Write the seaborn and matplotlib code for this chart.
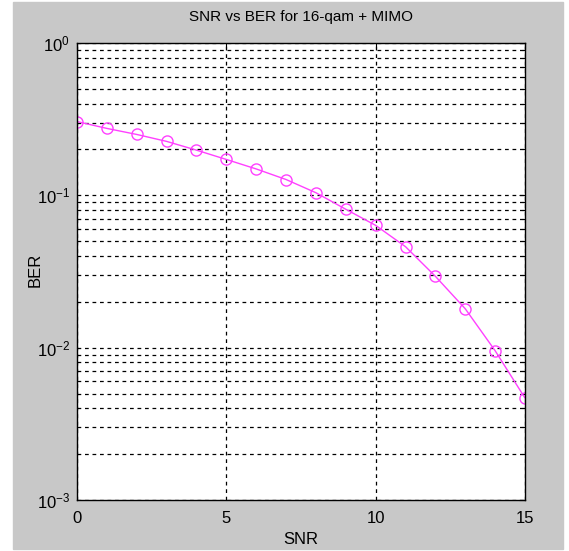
import numpy as np
import pandas as pd
import matplotlib
matplotlib.use("Agg")
import matplotlib.pyplot as plt
from matplotlib.patches import Rectangle
from matplotlib.ticker import LogLocator, NullFormatter, FixedLocator
import seaborn as sns

# data
snr = [0, 1, 2, 3, 4, 5, 6, 7, 8, 9, 10, 11, 12, 13, 14, 15]
ber = [0.305, 0.275, 0.251, 0.226, 0.198, 0.172, 0.149, 0.127,
       0.104, 0.081, 0.0635, 0.046, 0.0294, 0.018, 0.00955, 0.00467]
df = pd.DataFrame({"SNR": snr, "BER": ber})

sns.set_style("white")
plt.rcParams["font.family"] = ["Liberation Sans", "DejaVu Sans"]
plt.rcParams["mathtext.fontset"] = "custom"
plt.rcParams["mathtext.rm"] = "Liberation Sans"
plt.rcParams["text.color"] = "black"
plt.rcParams["axes.labelcolor"] = "black"
plt.rcParams["xtick.color"] = "black"
plt.rcParams["ytick.color"] = "black"

W, H = 569, 551
fig = plt.figure(figsize=(W / 100, H / 100), dpi=100)
fig.patch.set_facecolor("white")
# matlab-style grey figure area
fig.patches.append(Rectangle((13 / W, 2 / H), (563 - 13) / W, (549 - 2) / H,
                             transform=fig.transFigure, color="#c8c8c8", zorder=-1))

ax = fig.add_axes([77 / W, 1 - 500 / H, (525 - 77) / W, (500 - 43) / H])
ax.set_facecolor("white")

sns.lineplot(data=df, x="SNR", y="BER", ax=ax, color="#ff40ff", linewidth=1,
             marker="o", markersize=8, markerfacecolor="none",
             markeredgecolor="#ff40ff", markeredgewidth=1)

ax.set_yscale("log")
ax.set_xlim(0, 15)
ax.set_ylim(1e-3, 1)
ax.xaxis.set_major_locator(FixedLocator([0, 5, 10, 15]))
ax.yaxis.set_major_locator(LogLocator(base=10, numticks=10))
ax.yaxis.set_minor_locator(LogLocator(base=10, subs=np.arange(2, 10), numticks=20))
ax.yaxis.set_minor_formatter(NullFormatter())

grid_kw = dict(color="black", linestyle=(0, (3, 3)), linewidth=0.9)
ax.grid(True, which="major", axis="both", **grid_kw)
ax.grid(True, which="minor", axis="y", **grid_kw)

ax.tick_params(axis="both", which="both", direction="in", labelsize=12,
               top=True, right=True, length=4, width=0.8, color="black",
               labelcolor="black")
ax.tick_params(axis="both", which="minor", length=2)
ax.tick_params(axis="x", pad=8)
ax.tick_params(axis="y", pad=5)

for s in ax.spines.values():
    s.set_visible(True)
    s.set_color("black")
    s.set_linewidth(1)

ax.set_title("SNR vs BER for 16-qam + MIMO", fontsize=11, color="black",
             y=1.057, va="center", pad=0)
ax.set_xlabel("SNR", fontsize=12, color="black")
ax.set_ylabel("BER", fontsize=12, color="black")
ax.xaxis.set_label_coords(0.5, -0.087)
ax.yaxis.set_label_coords(-0.094, 0.503)
ax.xaxis.label.set_va("center")
ax.yaxis.label.set_va("center")

fig.savefig("out.png", dpi=100)
